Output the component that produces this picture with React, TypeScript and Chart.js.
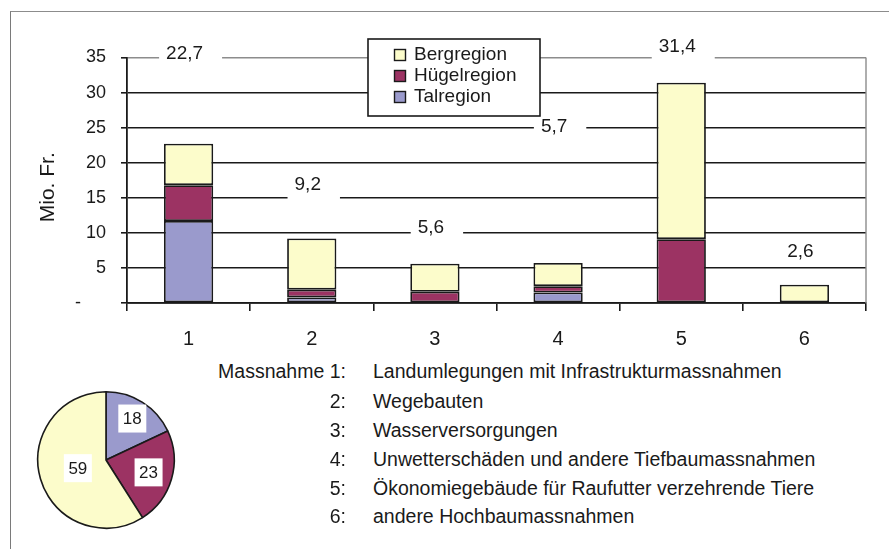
import React, { useEffect, useRef } from 'react';
import { Chart, registerables } from 'chart.js';

Chart.register(...registerables);

// ---------- data ----------
const CATEGORIES = ['1', '2', '3', '4', '5', '6'];
const TAL = [11.7, 0.8, null, 1.5, null, null];
const HUGEL = [5.1, 1.1, 1.6, 0.9, 9.1, null];
const BERG = [5.9, 7.3, 4.0, 3.3, 22.3, 2.6];
const TOTAL_LABELS = ['22,7', '9,2', '5,6', '5,7', '31,4', '2,6'];
const TOTAL_LABEL_LEVEL = [35.6, 16.8, 10.7, 25.1, 36.6, 7.3];
const SERIES_NAMES = ['Talregion', 'Hügelregion', 'Bergregion'];
const PIE_SHARES = [18, 23, 59];
const PIE_LABEL_RADIUS = [0.72, 0.65, 0.43];
const MEASURE_NUMBERS = ['Massnahme 1:', '2:', '3:', '4:', '5:', '6:'];
const MEASURES = [
  'Landumlegungen mit Infrastrukturmassnahmen',
  'Wegebauten',
  'Wasserversorgungen',
  'Unwetterschäden und andere Tiefbaumassnahmen',
  'Ökonomiegebäude für Raufutter verzehrende Tiere',
  'andere Hochbaumassnahmen',
];
const Y_TITLE = 'Mio. Fr.';

// ---------- styles ----------
const COLORS = ['#9a9acc', '#9c3363', '#fcfccb'];
const FONT = '"Liberation Sans", Arial, sans-serif';
const INK = '#1a1a1a';

const totalsPlugin = {
  id: 'totals',
  afterDatasetsDraw(chart: any) {
    const { ctx, scales } = chart;
    const xs = scales.x;
    const ys = scales.y;
    ctx.save();
    ctx.font = `19px ${FONT}`;
    ctx.textAlign = 'center';
    ctx.textBaseline = 'middle';
    TOTAL_LABELS.forEach((t, i) => {
      const x = xs.getPixelForValue(i) - 4;
      const y = ys.getPixelForValue(TOTAL_LABEL_LEVEL[i]);
      const w = ctx.measureText(t).width;
      ctx.fillStyle = '#ffffff';
      ctx.fillRect(x - w / 2 - 7, y - 10, w + 26, 24.5);
      ctx.fillStyle = INK;
      ctx.fillText(t, x, y);
    });
    ctx.restore();
  },
};

const framePlugin = {
  id: 'frameExtras',
  beforeDatasetsDraw(chart: any) {
    const { ctx, chartArea } = chart;
    ctx.save();
    ctx.strokeStyle = '#8c8c8c';
    ctx.lineWidth = 1.4;
    ctx.beginPath();
    ctx.moveTo(chartArea.right, chartArea.top);
    ctx.lineTo(chartArea.right, chartArea.bottom);
    ctx.stroke();
    ctx.restore();
  },
  afterDraw(chart: any) {
    const { ctx, chartArea } = chart;
    ctx.save();
    // y title
    ctx.font = `21px ${FONT}`;
    ctx.fillStyle = INK;
    ctx.textAlign = 'center';
    ctx.textBaseline = 'middle';
    ctx.translate(48, (chartArea.top + chartArea.bottom) / 2 + 7);
    ctx.rotate(-Math.PI / 2);
    ctx.fillText(Y_TITLE, 0, 0);
    ctx.restore();

    // legend
    ctx.save();
    const lx = 368;
    const ly = 39;
    ctx.fillStyle = '#ffffff';
    ctx.fillRect(lx, ly, 172, 77);
    ctx.strokeStyle = INK;
    ctx.lineWidth = 1.6;
    ctx.strokeRect(lx, ly, 172, 77);
    ctx.font = `19px ${FONT}`;
    ctx.textBaseline = 'middle';
    ctx.textAlign = 'left';
    const ds = chart.data.datasets;
    const order = [2, 1, 0];
    order.forEach((di, k) => {
      const cy = 55 + k * 21;
      ctx.fillStyle = ds[di].backgroundColor;
      ctx.fillRect(394.5, cy - 5.5, 11, 11);
      ctx.strokeStyle = INK;
      ctx.lineWidth = 1.4;
      ctx.strokeRect(394.5, cy - 5.5, 11, 11);
      ctx.fillStyle = INK;
      ctx.fillText(ds[di].label, 414, cy);
    });
    ctx.restore();
  },
};

const pieLabelPlugin = {
  id: 'pieLabels',
  afterDatasetsDraw(chart: any) {
    const { ctx } = chart;
    const meta = chart.getDatasetMeta(0);
    ctx.save();
    ctx.font = `17px "Liberation Sans Narrow", ${FONT}`;
    ctx.textAlign = 'center';
    ctx.textBaseline = 'middle';
    meta.data.forEach((arc: any, i: number) => {
      const p = arc.getProps(['x', 'y', 'startAngle', 'endAngle', 'outerRadius'], true);
      const mid = (p.startAngle + p.endAngle) / 2;
      const r = p.outerRadius * PIE_LABEL_RADIUS[i];
      const x = p.x + Math.cos(mid) * r;
      const y = p.y + Math.sin(mid) * r;
      ctx.fillStyle = '#ffffff';
      ctx.fillRect(x - 14, y - 14, 28, 28);
      ctx.fillStyle = INK;
      ctx.fillText(String(PIE_SHARES[i]), x, y + 1);
    });
    ctx.restore();
  },
};

export default function App() {
  const barRef = useRef<HTMLCanvasElement | null>(null);
  const pieRef = useRef<HTMLCanvasElement | null>(null);

  useEffect(() => {
    if (!barRef.current || !pieRef.current) return;
    const bar = new Chart(barRef.current, {
      type: 'bar',
      data: {
        labels: CATEGORIES,
        datasets: [
          { label: SERIES_NAMES[0], data: TAL as any, backgroundColor: COLORS[0] },
          { label: SERIES_NAMES[1], data: HUGEL as any, backgroundColor: COLORS[1] },
          { label: SERIES_NAMES[2], data: BERG as any, backgroundColor: COLORS[2] },
        ].map((d) => ({
          ...d,
          borderColor: INK,
          borderWidth: 1.8,
          borderSkipped: false,
          barPercentage: 0.4,
          categoryPercentage: 1,
        })),
      },
      options: {
        responsive: false,
        animation: false,
        devicePixelRatio: 1,
        layout: { padding: { top: 57.5, right: 23, left: 0, bottom: 0 } },
        plugins: { legend: { display: false }, tooltip: { enabled: false } },
        scales: {
          x: {
            stacked: true,
            offset: true,
            afterFit: (s: any) => {
              s.height = 47;
            },
            grid: {
              offset: true,
              drawOnChartArea: false,
              tickLength: 8,
              color: INK,
              lineWidth: 1.6,
            },
            border: { color: INK, width: 1.8 },
            ticks: {
              color: INK,
              padding: 16,
              font: { family: FONT, size: 20 },
            },
          },
          y: {
            stacked: true,
            min: 0,
            max: 35,
            afterFit: (s: any) => {
              s.width = 127;
            },
            grid: {
              color: (c: any) => (c.tick && c.tick.value === 35 ? '#8c8c8c' : INK),
              tickColor: INK,
              lineWidth: 1.6,
              tickLength: 6,
            },
            border: { color: INK, width: 1.8 },
            ticks: {
              stepSize: 5,
              color: INK,
              padding: 15,
              font: { family: FONT, size: 18 },
              callback: (v: any) => (Number(v) === 0 ? '-     ' : String(v)),
            },
          },
        },
      },
      plugins: [framePlugin, totalsPlugin],
    });

    const pie = new Chart(pieRef.current, {
      type: 'pie',
      data: {
        labels: SERIES_NAMES,
        datasets: [
          {
            data: PIE_SHARES,
            backgroundColor: COLORS,
            borderColor: INK,
            borderWidth: 1.6,
          },
        ],
      },
      options: {
        responsive: false,
        animation: false,
        devicePixelRatio: 1,
        layout: { padding: 6 },
        plugins: { legend: { display: false }, tooltip: { enabled: false } },
      },
      plugins: [pieLabelPlugin],
    });

    return () => {
      bar.destroy();
      pie.destroy();
    };
  }, []);

  const rowCenters = [371, 401, 430, 459, 488, 516];
  const textStyle: React.CSSProperties = {
    position: 'absolute',
    fontFamily: FONT,
    fontSize: 19.5,
    lineHeight: '22px',
    color: INK,
    whiteSpace: 'nowrap',
  };

  return (
    <div
      style={{
        position: 'absolute',
        left: 0,
        top: 0,
        width: 889,
        height: 549,
        background: '#ffffff',
        overflow: 'hidden',
      }}
    >
      <div
        style={{
          position: 'absolute',
          left: 10,
          top: 11,
          width: 900,
          height: 600,
          borderLeft: '1.5px solid #7a7a7a',
          borderTop: '1.5px solid #8c8c8c',
        }}
      />
      <canvas
        ref={barRef}
        width={889}
        height={350}
        style={{ position: 'absolute', left: 0, top: 0 }}
      />
      <canvas
        ref={pieRef}
        width={150}
        height={150}
        style={{ position: 'absolute', left: 31, top: 385 }}
      />
      {MEASURE_NUMBERS.map((n, i) => (
        <div
          key={'n' + i}
          style={{ ...textStyle, left: 0, width: 346, textAlign: 'right', top: rowCenters[i] - 11 }}
        >
          {n}
        </div>
      ))}
      {MEASURES.map((m, i) => (
        <div key={'m' + i} style={{ ...textStyle, left: 373, top: rowCenters[i] - 11 }}>
          {m}
        </div>
      ))}
    </div>
  );
}
